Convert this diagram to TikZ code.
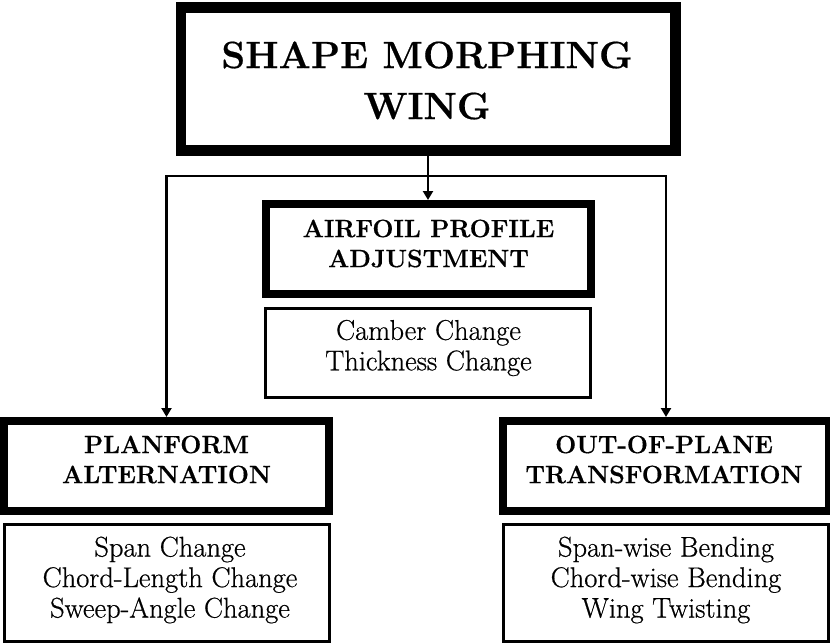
\documentclass[tikz,border=0pt]{standalone}
\usepackage{fontspec}
\newfontfamily\bodyfont{lmroman17-regular.otf}[FakeBold=0.6]
\newfontfamily\headfont{lmroman12-bold.otf}[FakeBold=0.5]
\usetikzlibrary{arrows.meta}
\begin{document}
\begin{tikzpicture}[x=1pt,y=-1pt,
  frame/.style={draw=black, rectangle, inner sep=0pt, fill=none},
  heavybox/.style={frame, line width=8pt, minimum width=325pt, minimum height=90pt},
  thinbox/.style={frame, line width=3pt, minimum width=325pt},
  titletext/.style={align=center, inner sep=0pt, font=\headfont\fontsize{38}{51}\selectfont},
  subtext/.style={align=center, inner sep=0pt, font=\headfont\fontsize{25}{30}\selectfont},
  bodytext/.style={align=center, inner sep=0pt, font=\bodyfont\fontsize{28.5}{30.5}\selectfont},
  conn/.style={draw=black, line width=2.5pt, -{Triangle[length=9pt,width=10pt]}}
]
\useasboundingbox (0,0) rectangle (830,643);

% top
\node[frame, line width=10.5pt, minimum width=494.5pt, minimum height=143pt] (top) at (428,79) {};
\node[titletext] (topT) at (427,80.5) {SHAPE MORPHING\\WING};

% airfoil
\node[heavybox] (air) at (428,249) {};
\node[subtext] (airT) at (428.5,243.5) {AIRFOIL PROFILE\\ADJUSTMENT};
\node[thinbox, minimum height=89pt] (cam) at (428.25,353) {};
\node[bodytext] (camT) at (428.5,348) {Camber Change\\Thickness Change};

% planform
\node[heavybox] (plan) at (166.5,466) {};
\node[subtext] (planT) at (166.5,459.5) {PLANFORM\\ALTERNATION};
\node[thinbox, minimum height=117pt] (span) at (167,582.5) {};
\node[bodytext] (spanT) at (170,580) {Span Change\\Chord-Length Change\\Sweep-Angle Change};

% out of plane
\node[heavybox, minimum width=326pt] (oop) at (666,466) {};
\node[subtext] (oopT) at (664,459.5) {OUT-OF-PLANE\\TRANSFORMATION};
\node[thinbox, minimum height=117pt] (bend) at (666,582.5) {};
\node[bodytext] (bendT) at (666,580) {Span-wise Bending\\Chord-wise Bending\\Wing Twisting};

% connectors
\coordinate (j) at (428,176);
\draw[conn] (top.south) -- (air.north);
\draw[conn] (j) -| (plan.north);
\draw[conn] (j) -| (oop.north);
\end{tikzpicture}
\end{document}
